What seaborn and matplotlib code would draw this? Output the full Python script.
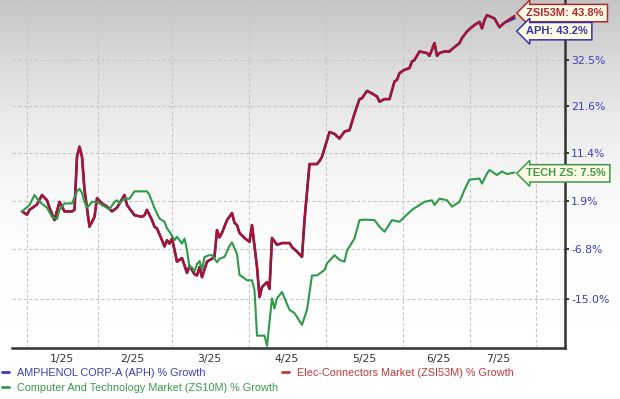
import numpy as np
import pandas as pd
import matplotlib
matplotlib.use("Agg")
import matplotlib.pyplot as plt
import seaborn as sns
from matplotlib.lines import Line2D

# trading-day index (0 = start of chart) and % growth
zsi_day = [0, 2, 3, 6, 8, 10, 11, 13, 15, 17, 20, 21, 22, 23, 24, 25, 27, 29, 30, 32,
           34, 36, 38, 41, 42, 45, 48, 49, 50, 52, 53, 54, 56, 57, 58, 59, 60, 61, 62, 64,
           66, 67, 69, 70, 71, 72, 74, 76, 77, 78, 79, 80, 82, 84, 85, 86, 87, 89, 91, 92,
           94, 95, 96, 98, 99, 100, 102, 104, 107, 108, 110, 112, 113, 115, 118, 119, 120, 123, 125, 127,
           129, 131, 133, 135, 136, 138, 140, 142, 143, 145, 147, 149, 150, 151, 153, 155, 156, 157, 159, 162,
           163, 165, 166, 167, 169, 171, 172, 175, 176, 178, 179, 181, 183, 184, 185, 186, 189, 191, 193, 194,
           197]
zsi_pct = [0.0, -0.6, 0.3, 1.3, 3.1, 2.1, 0.7, -1.6, 1.8, 0.0, 0.0, 0.3, 10.7, 12.8, 10.7, 4.1, -2.8, -1.0, 2.5, 1.5,
           0.9, 0.0, 0.7, 3.1, 1.2, -0.7, -1.0, -0.7, 0.3, -1.6, -2.8, -3.1, -5.2, -6.3, -5.2, -5.8, -4.9, -6.9, -8.9, -8.3,
           -10.8, -9.6, -11.0, -11.2, -9.8, -11.5, -8.9, -8.4, -8.1, -3.4, -4.7, -3.9, -1.6, -0.3, -2.1, -2.5, -3.9, -4.8, -5.5, -2.5,
           -9.8, -14.7, -13.1, -12.3, -13.4, -4.8, -6.0, -5.7, -5.7, -6.4, -7.2, -8.1, -1.6, 9.2, 9.2, 9.8, 10.7, 15.9, 15.5, 14.5,
           16.0, 16.3, 19.9, 23.2, 23.4, 25.1, 24.5, 23.8, 22.6, 23.2, 23.2, 27.3, 27.7, 29.3, 30.1, 30.5, 32.1, 32.5, 34.6, 34.2,
           33.5, 36.7, 33.5, 34.2, 34.6, 34.6, 35.2, 36.7, 38.0, 39.7, 40.3, 41.4, 42.2, 40.5, 42.7, 44.0, 43.1, 40.8, 42.0, 42.5,
           43.8]

aph_day = list(zsi_day)
aph_pct = [0.0, -0.6, 0.3, 1.3, 3.1, 2.1, 0.7, -1.6, 1.8, 0.0, 0.0, 0.3, 10.7, 12.8, 10.7, 4.1, -2.8, -1.0, 2.5, 1.5,
           0.9, 0.0, 0.7, 3.1, 1.2, -0.7, -1.0, -0.7, 0.3, -1.6, -2.8, -3.1, -5.2, -6.3, -5.2, -5.8, -4.9, -6.9, -8.9, -8.3,
           -10.8, -9.6, -11.0, -11.2, -9.8, -11.5, -8.9, -8.4, -8.1, -3.4, -4.7, -3.9, -1.6, -0.3, -2.1, -2.5, -3.9, -4.8, -5.5, -2.5,
           -9.8, -14.7, -13.1, -12.3, -13.4, -4.8, -6.0, -5.7, -5.7, -6.4, -7.2, -8.1, -1.6, 9.2, 9.2, 9.8, 10.7, 15.9, 15.5, 14.5,
           16.0, 16.3, 19.9, 23.2, 23.4, 25.1, 24.5, 23.8, 22.6, 23.2, 23.2, 27.3, 27.7, 29.3, 30.1, 30.5, 32.1, 32.5, 34.6, 34.2,
           33.5, 36.7, 33.5, 34.2, 34.6, 34.6, 35.2, 36.7, 38.0, 39.7, 40.3, 41.4, 42.2, 40.5, 42.7, 44.0, 43.1, 40.8, 42.0, 42.3,
           43.2]

tech_day = [0, 3, 5, 7, 10, 12, 14, 15, 17, 20, 22, 23, 24, 25, 26, 28, 30, 32, 35, 37,
            38, 39, 41, 43, 45, 50, 51, 53, 55, 57, 58, 59, 61, 62, 64, 65, 66, 67, 68, 69,
            70, 71, 72, 73, 75, 76, 78, 79, 81, 83, 84, 86, 87, 89, 90, 92, 93, 94, 97, 98,
            100, 101, 102, 104, 107, 109, 112, 114, 116, 118, 121, 122, 125, 127, 129, 130, 133, 135, 137, 141,
            143, 145, 148, 151, 153, 156, 159, 161, 164, 165, 167, 170, 172, 175, 177, 179, 183, 184, 186, 187,
            190, 192, 194, 197]
tech_pct = [0.0, 1.2, 3.1, 1.8, 0.7, -1.0, -1.4, 0.3, 1.5, 1.5, 3.8, 4.3, 3.5, 1.8, 0.7, 1.8, 1.8, 1.2, 0.4, 1.8,
            2.1, 1.5, 2.4, 2.4, 3.8, 3.8, 3.1, 0.6, -1.3, -1.9, -3.1, -3.7, -5.2, -4.6, -5.8, -4.9, -6.9, -9.9, -9.9, -10.5,
            -9.3, -8.8, -10.2, -8.1, -7.8, -7.8, -9.0, -8.4, -8.1, -6.2, -5.6, -7.6, -11.1, -11.7, -12.0, -12.0, -13.6, -20.6, -20.6, -22.1,
            -14.9, -16.5, -14.9, -13.9, -16.7, -17.2, -19.0, -16.7, -11.2, -11.2, -10.3, -9.2, -7.8, -8.6, -8.9, -7.0, -4.9, -1.6, -1.5, -1.6,
            -2.8, -3.7, -1.6, -1.9, -1.0, 0.3, 1.2, 1.8, 2.1, 1.2, 2.4, 2.1, 0.9, 1.8, 4.1, 6.1, 6.3, 5.3, 7.3, 8.0,
            7.0, 7.7, 7.2, 7.5]

month_edges = [2.0, 30.4, 60.0, 90.8, 121.6, 152.4, 179.2, 205.6]
month_ticks = [16.0, 44.0, 74.8, 106.0, 136.8, 166.4, 190.4]
month_labels = ["1/25", "2/25", "3/25", "4/25", "5/25", "6/25", "7/25"]
y_ticks = [-15.0, -6.8, 1.9, 11.4, 21.6, 32.5]

BLUE = "#2e2ea0"
RED = "#b0122a"
GREEN = "#2f9a47"

sns.set_style("white")
plt.rcParams["font.family"] = ["DejaVu Sans"]

W, H = 620, 399
fig = plt.figure(figsize=(W / 100, H / 100), dpi=100)

# grey-to-white background
bg = fig.add_axes([0, 0, 1, 1], zorder=0)
rows = np.interp(np.arange(H), [0, 60, 120, 180, 250, H], [196, 217, 234, 246, 253, 255]) / 255
bg.imshow(np.repeat(rows[:, None], 2, axis=1), cmap="gray", vmin=0, vmax=1,
          aspect="auto", extent=[0, 1, 0, 1])
bg.axis("off")

ax = fig.add_axes([12 / W, 1 - 348 / H, (565 - 12) / W, 348 / H], zorder=1)
ax.patch.set_alpha(0)
ax.set_yscale("function", functions=(lambda g: np.log1p(np.asarray(g) / 100),
                                     lambda t: np.expm1(np.asarray(t)) * 100))

sns.lineplot(x=aph_day, y=aph_pct, color=BLUE, lw=1.9, estimator=None, ax=ax, zorder=3)
sns.lineplot(x=zsi_day, y=zsi_pct, color=RED, lw=1.6, estimator=None, ax=ax, zorder=4)
sns.lineplot(x=tech_day, y=tech_pct, color=GREEN, lw=1.5, estimator=None, ax=ax, zorder=5)

ax.set_xlim(-4, 217.2)
ax.set_ylim(-22.4, 48.1)

ax.yaxis.tick_right()
ax.set_yticks(y_ticks)
ax.set_yticklabels([f"{v:.1f}%" for v in y_ticks])
ax.tick_params(axis="y", which="major", length=3, width=1.4, color="#333333",
               labelcolor="#3d3db5", labelsize=7.8, pad=1.5)

ax.set_xticks(month_ticks)
ax.set_xticklabels(month_labels)
ax.set_xticks(month_edges, minor=True)
ax.tick_params(axis="x", which="both", length=0, labelcolor="#333333", labelsize=7.8, pad=4)

grid_kw = dict(color="#c6c6c6", linestyle=(0, (3, 2)), linewidth=0.8)
ax.grid(axis="y", which="major", **grid_kw)
ax.grid(axis="x", which="minor", **grid_kw)
ax.grid(axis="x", which="major", visible=False)
ax.set_axisbelow(True)

for side in ["top", "left"]:
    ax.spines[side].set_visible(False)
for side in ["right", "bottom"]:
    ax.spines[side].set_color("#333333")
    ax.spines[side].set_linewidth(1.8)

ax.set_xlabel("")
ax.set_ylabel("")

# end-of-line value tags
tags = [("ZSI53M: 43.8%", zsi_pct[-1], "#b3272d", 2.0),
        ("APH: 43.2%", aph_pct[-1], "#3434a8", -9.4),
        ("TECH ZS: 7.5%", tech_pct[-1], "#3a9a4a", -0.6)]
for text, val, col, dy in tags:
    ax.annotate(text, xy=(zsi_day[-1], val), xytext=(8.6, dy), textcoords="offset points",
                ha="left", va="center", fontsize=8, color=col, family="Liberation Sans",
                fontweight="bold", annotation_clip=False, zorder=10,
                bbox=dict(boxstyle="larrow,pad=0.33", fc="#fffde6", ec=col, lw=1.1))

handles = [Line2D([], [], color="#3b3bb5", lw=2),
           Line2D([], [], color="#3a9a4a", lw=2),
           Line2D([], [], color="#c0393a", lw=2)]
labels = ["AMPHENOL CORP-A (APH) % Growth",
          "Computer And Technology Market (ZS10M) % Growth",
          "Elec-Connectors Market (ZSI53M) % Growth"]
fig.legend(handles, labels, loc="upper left", bbox_to_anchor=(2 / W, 1 - 368 / H),
           ncol=2, frameon=False, prop={"family": "Liberation Sans", "size": 7.8},
           handlelength=0.6, handletextpad=0.75, columnspacing=0.4, labelspacing=0.45,
           borderaxespad=0, borderpad=0, labelcolor="linecolor")

fig.savefig("out.png", dpi=100)
